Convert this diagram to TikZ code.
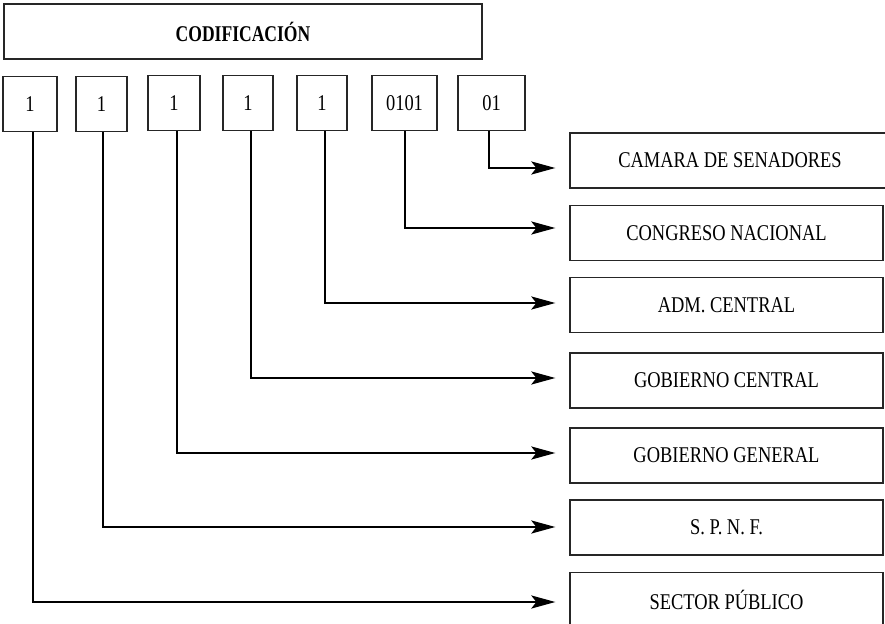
\documentclass[tikz,border=0pt]{standalone}
\usepackage{fontspec}
\setmainfont{Liberation Serif}[FakeStretch=0.82]
\newfontfamily\titlefont{Liberation Serif}[FakeStretch=0.78]
\usetikzlibrary{arrows.meta}
\begin{document}
\begin{tikzpicture}[x=1pt,y=-1pt,
  box/.style={draw=black!85, line width=1.3pt, inner sep=0pt, minimum height=55pt,
    font=\fontsize{22.5}{25}\selectfont},
  digit/.style={box, minimum height=55pt},
  item/.style={box, minimum width=313pt, minimum height=55pt},
  conn/.style={line width=2.5pt, -{Stealth[length=24pt,width=13pt,inset=5pt]}}]
\useasboundingbox (0,0) rectangle (885,623);
% header
\node[box, minimum width=478pt, minimum height=55pt] (hdr) at (243,31.5)
  {\titlefont\bfseries CODIFICACIÓN};
% code boxes
\node[digit, minimum width=54pt] (b1) at (30,104) {1};
\node[digit, minimum width=51pt] (b2) at (101.5,104) {1};
\node[digit, minimum width=52pt] (b3) at (174,103) {1};
\node[digit, minimum width=50pt] (b4) at (248,103) {1};
\node[digit, minimum width=50pt] (b5) at (322,103) {1};
\node[digit, minimum width=65pt] (b6) at (404.5,103) {0101};
\node[digit, minimum width=67pt] (b7) at (491.5,103) {01};
% description boxes
\node[item, minimum width=320pt] (r1) at (730,160.5) {CAMARA DE SENADORES};
\node[item] (r2) at (726.5,233) {CONGRESO NACIONAL};
\node[item] (r3) at (726.5,305) {ADM. CENTRAL};
\node[item] (r4) at (726.5,380.5) {GOBIERNO CENTRAL};
\node[item] (r5) at (726.5,455.5) {GOBIERNO GENERAL};
\node[item] (r6) at (726.5,527.5) {S. P. N. F.};
\node[item] (r7) at (726.5,600) {SECTOR PÚBLICO};
% connectors
\draw[conn] ([xshift=-2.5pt]b7.south) |- ([xshift=-14pt,yshift=-7.5pt]r1.west);
\draw[conn] ([xshift=0.5pt]b6.south) |- ([xshift=-14pt,yshift=5pt]r2.west);
\draw[conn] ([xshift=3pt]b5.south) |- ([xshift=-14pt,yshift=2pt]r3.west);
\draw[conn] ([xshift=3pt]b4.south) |- ([xshift=-14pt,yshift=2.5pt]r4.west);
\draw[conn] ([xshift=3pt]b3.south) |- ([xshift=-14pt,yshift=2.5pt]r5.west);
\draw[conn] ([xshift=1.5pt]b2.south) |- ([xshift=-14pt,yshift=0.5pt]r6.west);
\draw[conn] ([xshift=3pt]b1.south) |- ([xshift=-14pt,yshift=-2pt]r7.west);
\end{tikzpicture}
\end{document}
